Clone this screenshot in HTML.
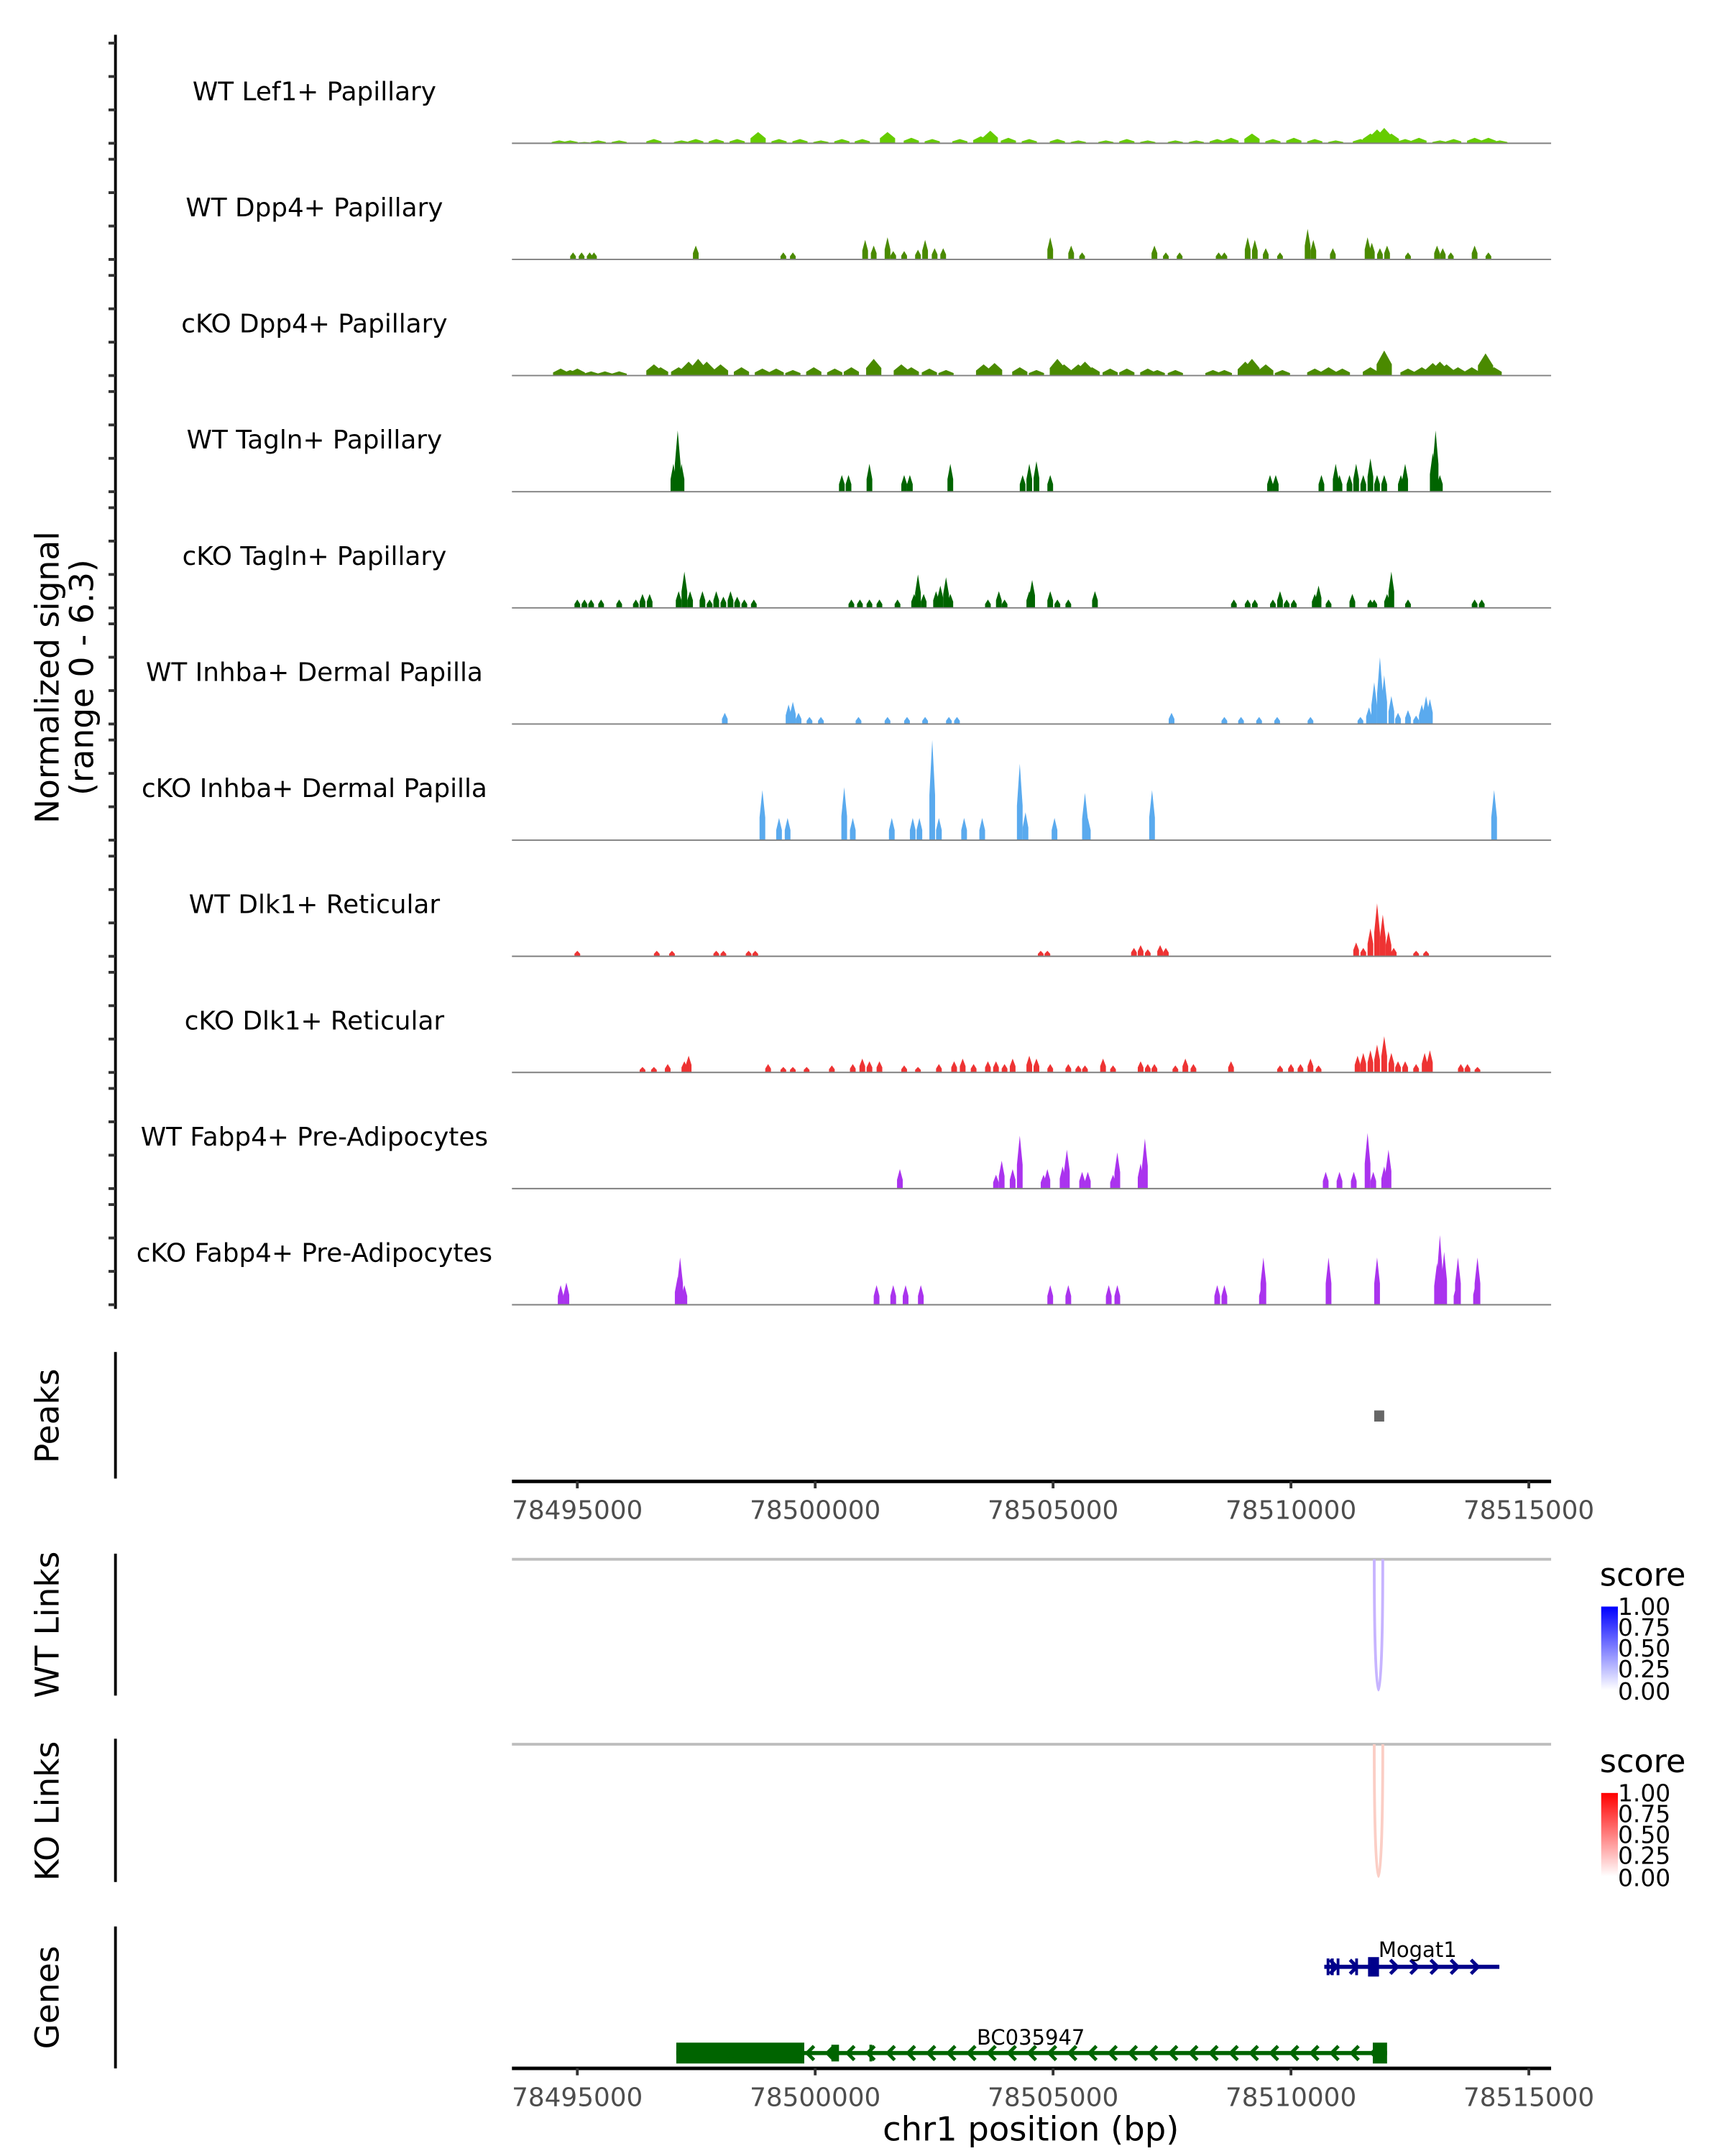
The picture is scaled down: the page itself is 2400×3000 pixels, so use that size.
<!DOCTYPE html>
<html><head><meta charset="utf-8">
<style>
html,body{margin:0;padding:0;background:#fff;}
svg{display:block;font-family:"DejaVu Sans","Liberation Sans",sans-serif;}
</style></head>
<body>
<svg id="chart" width="2400" height="3000" viewBox="0 0 1240 1550" xmlns="http://www.w3.org/2000/svg">
<g id="static">
  <line x1="83" y1="25" x2="83" y2="941" stroke="#000" stroke-width="2"/>
  <text transform="translate(42,487) rotate(-90)" text-anchor="middle" font-size="23.5">Normalized signal</text>
  <text transform="translate(67,487) rotate(-90)" text-anchor="middle" font-size="23.5">(range 0 - 6.3)</text>
  <line x1="83" y1="972" x2="83" y2="1063" stroke="#000" stroke-width="2"/>
  <text transform="translate(42,1018) rotate(-90)" text-anchor="middle" font-size="23.5">Peaks</text>
  <line x1="83" y1="1117" x2="83" y2="1219" stroke="#000" stroke-width="2"/>
  <text transform="translate(42,1168) rotate(-90)" text-anchor="middle" font-size="23.5">WT Links</text>
  <line x1="83" y1="1250" x2="83" y2="1353" stroke="#000" stroke-width="2"/>
  <text transform="translate(42,1302) rotate(-90)" text-anchor="middle" font-size="23.5">KO Links</text>
  <line x1="83" y1="1385" x2="83" y2="1487" stroke="#000" stroke-width="2"/>
  <text transform="translate(42,1436) rotate(-90)" text-anchor="middle" font-size="23.5">Genes</text>
  <text x="741" y="1539" text-anchor="middle" font-size="24">chr1 position (bp)</text>
  <defs>
    <linearGradient id="gBlue" x1="0" y1="1" x2="0" y2="0"><stop offset="0" stop-color="#ffffff"/><stop offset="1" stop-color="#0000ff"/></linearGradient>
    <linearGradient id="gRed" x1="0" y1="1" x2="0" y2="0"><stop offset="0" stop-color="#ffffff"/><stop offset="1" stop-color="#ff0000"/></linearGradient>
  </defs>
  <g>
    <text x="1150" y="1140" font-size="23">score</text>
    <rect x="1151" y="1155" width="12" height="60" fill="url(#gBlue)"/>
    <g font-size="17" fill="#000"><text x="1163" y="1161">1.00</text><text x="1163" y="1176">0.75</text><text x="1163" y="1191">0.50</text><text x="1163" y="1206">0.25</text><text x="1163" y="1222">0.00</text></g>
  </g>
  <g>
    <text x="1150" y="1274" font-size="23">score</text>
    <rect x="1151" y="1289" width="12" height="60" fill="url(#gRed)"/>
    <g font-size="17" fill="#000"><text x="1163" y="1295">1.00</text><text x="1163" y="1310">0.75</text><text x="1163" y="1325">0.50</text><text x="1163" y="1340">0.25</text><text x="1163" y="1356">0.00</text></g>
  </g>
</g>
<g id="dyn"></g>
</svg>
<script>
// ---- data (positions in kb offset from 78,495,000; values = normalized signal) ----
const trackNames = ["WT Lef1+ Papillary","WT Dpp4+ Papillary","cKO Dpp4+ Papillary","WT Tagln+ Papillary","cKO Tagln+ Papillary","WT Inhba+ Dermal Papilla","cKO Inhba+ Dermal Papilla","WT Dlk1+ Reticular","cKO Dlk1+ Reticular","WT Fabp4+ Pre-Adipocytes","cKO Fabp4+ Pre-Adipocytes"];
const trackColors = ["#66cc00","#4a8a00","#4a8a00","#006400","#006400","#5aaaee","#5aaaee","#ee3333","#ee3333","#aa33ee","#aa33ee"];
const t1Pos = [-0.38,-0.15,0.15,0.44,0.88,1.61,2.19,2.49,2.92,3.36,3.80,4.24,4.68,5.12,5.56,5.99,6.52,7.02,7.46,8.04,8.48,8.68,9.06,9.50,10.09,10.53,11.11,11.55,11.99,12.57,13.01,13.45,13.74,14.18,14.62,15.06,15.50,15.94,16.46,16.67,16.81,16.96,17.11,17.40,17.69,18.13,18.42,18.86,19.15,19.39];
const t1Val = [0.17,0.17,0.08,0.17,0.17,0.25,0.17,0.25,0.25,0.25,0.67,0.25,0.25,0.17,0.25,0.25,0.67,0.33,0.25,0.25,0.42,0.75,0.33,0.25,0.25,0.17,0.17,0.25,0.17,0.17,0.17,0.25,0.33,0.58,0.25,0.33,0.25,0.17,0.25,0.58,0.83,0.92,0.58,0.25,0.33,0.17,0.25,0.33,0.33,0.17];
const t2Pos = [-0.09,0.09,0.26,0.35,2.49,4.33,4.53,6.05,6.23,6.52,6.64,6.87,7.16,7.31,7.51,7.69,9.94,10.38,10.61,12.13,12.37,12.66,13.48,13.60,14.09,14.24,14.47,14.77,15.35,15.47,15.88,16.61,16.70,16.87,17.02,17.46,18.07,18.19,18.36,18.86,19.15];
const t2Val = [0.42,0.42,0.42,0.42,0.83,0.42,0.42,1.17,0.83,1.33,0.5,0.5,0.58,1.17,0.67,0.67,1.33,0.83,0.42,0.83,0.42,0.42,0.42,0.42,1.33,1.17,0.67,0.42,1.83,1.17,0.67,1.33,1.0,0.67,0.83,0.42,0.83,0.67,0.42,0.83,0.42];
const t3Pos = [-0.35,-0.15,0,0.29,0.58,0.88,1.61,1.75,2.13,2.34,2.54,2.72,3.01,3.45,3.89,4.18,4.53,4.97,5.41,5.76,6.23,6.81,7.02,7.40,7.75,8.54,8.77,9.30,9.65,10.09,10.23,10.53,10.67,10.82,11.20,11.55,11.99,12.19,12.57,13.36,13.60,14.04,14.18,14.47,14.82,15.50,15.79,16.08,16.67,16.96,17.46,17.75,17.98,18.13,18.27,18.51,18.80,19.09,19.27];
const t3Val = [0.42,0.33,0.42,0.25,0.25,0.25,0.67,0.5,0.5,0.83,1.0,0.83,0.67,0.5,0.42,0.42,0.33,0.5,0.42,0.5,1.0,0.67,0.5,0.42,0.33,0.67,0.75,0.5,0.33,1.0,0.67,0.67,0.83,0.5,0.42,0.42,0.42,0.33,0.33,0.33,0.33,0.83,1.0,0.67,0.33,0.42,0.5,0.42,0.5,1.5,0.42,0.5,0.75,0.83,0.67,0.5,0.5,1.33,0.5];
const t4Pos = [2.02,2.11,2.19,5.56,5.70,6.14,6.87,6.99,7.84,9.36,9.50,9.65,9.94,14.56,14.68,15.64,15.94,16.02,16.23,16.37,16.52,16.67,16.81,16.96,17.31,17.40,17.98,18.04,18.13];
const t4Val = [1.67,3.67,1.67,1.0,1.0,1.67,1.0,1.0,1.67,1.0,1.67,1.83,1.0,1.0,1.0,1.0,1.67,1.0,1.0,1.67,1.0,2.0,1.0,1.0,1.0,1.67,2.33,3.67,1.0];
const t5Pos = [0,0.15,0.29,0.50,0.88,1.23,1.37,1.52,2.13,2.25,2.37,2.63,2.78,2.92,3.07,3.22,3.36,3.51,3.71,5.76,5.94,6.14,6.35,6.73,7.08,7.16,7.28,7.54,7.63,7.75,7.84,8.63,8.86,8.98,9.50,9.56,9.94,10.09,10.32,10.88,13.80,14.09,14.24,14.62,14.77,14.91,15.06,15.50,15.58,15.79,16.29,16.67,16.75,17.02,17.11,17.46,18.86,19.01];
const t5Val = [0.5,0.5,0.5,0.5,0.5,0.5,0.83,0.83,1.0,2.17,1.0,1.0,0.5,1.0,0.67,1.0,0.67,0.5,0.5,0.5,0.5,0.5,0.5,0.5,0.83,2.0,0.83,1.0,1.33,1.83,0.83,0.5,1.0,0.5,1.0,1.67,1.0,0.5,0.5,1.0,0.5,0.5,0.5,0.5,1.0,0.5,0.5,0.83,1.33,0.5,0.83,0.5,0.5,0.83,2.17,0.5,0.5,0.5];
const t6Pos = [3.10,4.44,4.53,4.65,4.88,5.12,5.91,6.52,6.93,7.31,7.81,7.98,12.49,13.60,13.95,14.33,14.71,15.41,16.46,16.64,16.75,16.87,16.96,17.11,17.25,17.46,17.63,17.75,17.84,17.92];
const t6Val = [0.67,1.17,1.33,0.67,0.42,0.42,0.42,0.42,0.42,0.42,0.42,0.42,0.67,0.42,0.42,0.42,0.42,0.42,0.42,1.0,2.5,4.0,2.92,1.67,0.67,0.83,0.5,1.17,1.67,1.5];
const t7Pos = [3.89,4.24,4.42,5.61,5.79,6.61,7.05,7.19,7.46,7.60,8.13,8.51,9.30,9.42,10.03,10.67,10.73,12.08,19.27];
const t7Val = [3.0,1.33,1.33,3.17,1.33,1.33,1.33,1.33,6.0,1.33,1.33,1.33,4.58,1.67,1.33,2.83,1.33,3.0,3.0];
const t8Pos = [0,1.67,1.99,2.92,3.07,3.60,3.74,9.74,9.88,11.70,11.84,11.99,12.25,12.37,16.37,16.52,16.67,16.81,16.93,17.05,17.16,17.63,17.84];
const t8Val = [0.33,0.33,0.33,0.33,0.33,0.33,0.33,0.33,0.33,0.5,0.67,0.42,0.67,0.5,0.83,0.5,1.67,3.17,2.5,1.5,0.5,0.33,0.33];
const t9Pos = [1.37,1.61,1.90,2.25,2.34,4.01,4.33,4.53,4.82,5.35,5.79,5.99,6.14,6.35,6.87,7.16,7.60,7.92,8.10,8.33,8.63,8.80,8.98,9.15,9.50,9.65,9.94,10.32,10.53,10.67,11.05,11.26,11.84,11.99,12.13,12.57,12.78,12.95,13.74,14.77,15.00,15.20,15.41,15.58,16.40,16.52,16.67,16.81,16.96,17.11,17.25,17.40,17.63,17.81,17.92,18.57,18.71,18.92];
const t9Val = [0.33,0.33,0.5,0.67,1.0,0.5,0.33,0.33,0.33,0.42,0.5,0.83,0.67,0.67,0.42,0.33,0.5,0.67,0.83,0.5,0.67,0.67,0.5,0.83,1.0,0.83,0.5,0.5,0.42,0.42,0.83,0.42,0.67,0.5,0.5,0.42,0.83,0.5,0.67,0.42,0.5,0.5,0.83,0.42,1.0,1.17,1.33,1.67,2.17,1.17,0.67,0.67,0.5,1.17,1.33,0.5,0.5,0.33];
const t10Pos = [6.78,8.80,8.92,9.15,9.30,9.80,9.88,10.20,10.29,10.61,10.73,11.26,11.35,11.84,11.93,15.73,16.02,16.32,16.61,16.73,16.96,17.05];
const t10Val = [1.17,0.83,1.67,1.17,3.17,0.83,1.17,1.33,2.33,1.0,1.0,0.83,2.17,1.5,3.0,1.0,1.0,1.0,3.33,1.0,1.33,2.33];
const t11Pos = [-0.35,-0.23,2.11,2.16,2.25,6.29,6.64,6.90,7.22,9.94,10.32,11.17,11.35,13.45,13.60,14.39,14.42,15.79,16.81,18.07,18.13,18.22,18.48,18.51,18.89,18.92];
const t11Val = [1.17,1.33,1.67,2.83,1.17,1.17,1.17,1.17,1.17,1.17,1.17,1.17,1.17,1.17,1.17,1.17,2.83,2.83,2.83,2.5,4.17,3.17,1.17,2.83,1.33,2.83];
const trackPos = [t1Pos,t2Pos,t3Pos,t4Pos,t5Pos,t6Pos,t7Pos,t8Pos,t9Pos,t10Pos,t11Pos];
const trackVal = [t1Val,t2Val,t3Val,t4Val,t5Val,t6Val,t7Val,t8Val,t9Val,t10Val,t11Val];
const xTicks = [78495000,78500000,78505000,78510000,78515000];
const peakStarts = [16.75];
const peakEnds = [16.96];
const wtLinkStart = [16.75]; const wtLinkEnd = [16.93]; const wtLinkScore = [0.35];
const koLinkStart = [16.75]; const koLinkEnd = [16.93]; const koLinkScore = [0.3];
const mogatExonStart = [15.75,15.84,15.96,16.35,16.62];
const mogatExonEnd = [15.80,15.88,16.00,16.40,16.85];
const bcExonStart = [2.08,5.34,6.14,16.72];
const bcExonEnd = [4.77,5.50,6.20,17.02];

// ---- scales ----
const X0 = 415, PXPERKB = 34.2;
function xKb(kb){ return X0 + kb*PXPERKB; }
function xBp(bp){ return xKb((bp-78495000)/1000); }
const BASE0 = 103, TRACKSTEP = 83.5, PXPERUNIT = 12;
function yVal(i,v){ return BASE0 + i*TRACKSTEP - v*PXPERUNIT; }
const NS = "http://www.w3.org/2000/svg";
const dyn = document.getElementById('dyn');
function mk(tag, attrs, parent){ const e=document.createElementNS(NS,tag); for(const k in attrs) e.setAttribute(k,attrs[k]); (parent||dyn).appendChild(e); return e; }

// ---- signal tracks ----
for(let i=0;i<trackNames.length;i++){
  const g = mk('g',{});
  
  
  const base = yVal(i,0);
  for(let k=0;k<4;k++){
    const t = mk('line',{x1:78,x2:83,y1:base-k*24,y2:base-k*24,stroke:'#333','stroke-width':2},g);
    
    
  }
  const lab = mk('text',{x:226,y:base-31,'text-anchor':'middle','font-size':18.5},g);
  lab.textContent = trackNames[i];
  
  
  const pos = trackPos[i], val = trackVal[i];
  const w = (i===0||i===2) ? 0.16 : 0.06;
  for(let j=0;j<pos.length;j++){
    const xl = xKb(pos[j]-w), xr = xKb(pos[j]+w), xc = xKb(pos[j]);
    const top = yVal(i,val[j]);
    const sh = top + (base-top)*0.55;
    const p = mk('path',{d:`M${xl},${base} L${xl},${sh} L${xc},${top} L${xr},${sh} L${xr},${base} Z`,fill:trackColors[i]},g);
    
    
  }
  const bl = mk('line',{x1:368,x2:1115,y1:base,y2:base,stroke:'#808080','stroke-width':1},g);
  
  
}

// ---- x axes ----
function xAxis(y, name){
  const g = mk('g',{});
  
  
  mk('line',{x1:368,x2:1115,y1:y,y2:y,stroke:'#000','stroke-width':2.5},g);
  for(const t of xTicks){
    const x = xBp(t);
    mk('line',{x1:x,x2:x,y1:y,y2:y+5,stroke:'#333','stroke-width':2},g);
    const tx = mk('text',{x:x,y:y+27,'text-anchor':'middle','font-size':18.5,fill:'#4d4d4d'},g);
    tx.textContent = String(t);
    
    
  }
}
xAxis(1065,'peaks-x-axis');
xAxis(1487,'genes-x-axis');

// ---- peaks ----
for(let j=0;j<peakStarts.length;j++){
  const r = mk('rect',{x:xKb(peakStarts[j]),y:1014,width:xKb(peakEnds[j])-xKb(peakStarts[j]),height:8,fill:'#666'});
  
  
}

// ---- links ----
function mix(c, s){ const r = Math.round(255+(c[0]-255)*s), g=Math.round(255+(c[1]-255)*s), b=Math.round(255+(c[2]-255)*s); return `rgb(${r},${g},${b})`; }
function links(y0, depth, starts, ends, scores, col, name){
  const bl = mk('line',{x1:368,x2:1115,y1:y0,y2:y0,stroke:'#bebebe','stroke-width':2});
  
  
  for(let j=0;j<starts.length;j++){
    const a = xKb(starts[j]), b = xKb(ends[j]), m=(a+b)/2;
    const p = mk('path',{d:`M${a},${y0} C${a},${y0+depth*0.8} ${m-1},${y0+depth} ${m},${y0+depth} C${m+1},${y0+depth} ${b},${y0+depth*0.8} ${b},${y0}`,fill:'none',stroke:mix(col,scores[j]),'stroke-width':2});
    
    
  }
}
links(1121,94,wtLinkStart,wtLinkEnd,wtLinkScore,[96,40,255],'wt-link');
links(1254,95,koLinkStart,koLinkEnd,koLinkScore,[240,90,60],'ko-link');

// ---- genes ----
function gene(y, startKb, endKb, exS, exE, col, dir, label, labelX, labelY, thickTall){
  const g = mk('g',{});
  
  
  mk('line',{x1:xKb(startKb),x2:xKb(endKb),y1:y,y2:y,stroke:col,'stroke-width':3},g);
  for(let j=0;j<exS.length;j++){
    const a=xKb(exS[j]), b=xKb(exE[j]); const h = (b-a)>6 ? thickTall : 12;
    mk('rect',{x:a,y:y-h/2,width:Math.max(b-a,2),height:h,fill:col},g);
  }
  for(let x=xKb(startKb)+8; x<xKb(endKb)-4; x+=14.5){
    mk('path',{d: dir>0 ? `M${x-4},${y-5} L${x+1},${y} L${x-4},${y+5}` : `M${x+4},${y-5} L${x-1},${y} L${x+4},${y+5}`,fill:'none',stroke:col,'stroke-width':2.5},g);
  }
  const t = mk('text',{x:labelX,y:labelY,'text-anchor':'middle','font-size':15},g);
  t.textContent = label;
}
gene(1414,15.70,19.38,mogatExonStart,mogatExonEnd,'#00008b',1,'Mogat1',1019,1407,14);
gene(1476,2.08,17.02,bcExonStart,bcExonEnd,'#006400',-1,'BC035947',741,1470,15);
</script>
</body></html>
